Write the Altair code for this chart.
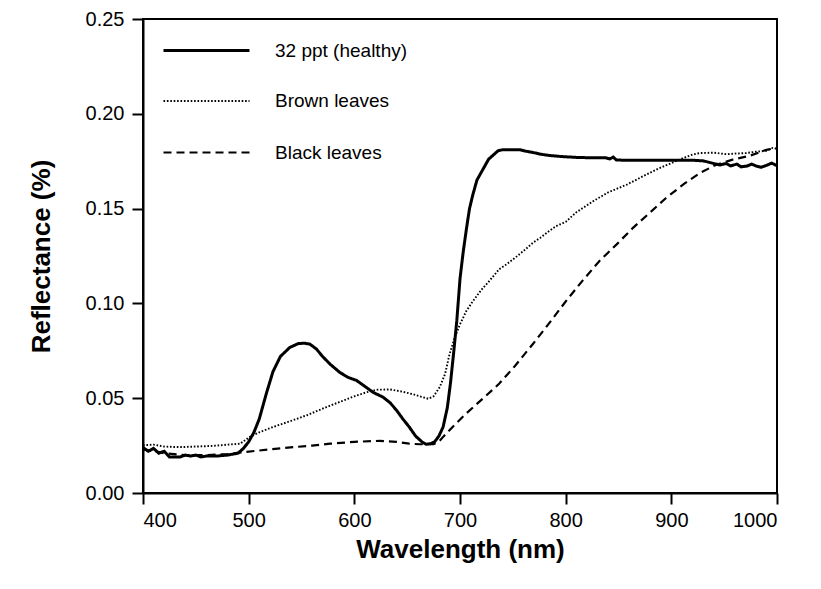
import altair as alt
import pandas as pd

# ---- data ----
series_names = ["32 ppt (healthy)", "Brown leaves", "Black leaves"]

healthy_wl = [400, 405, 410, 415, 420, 425, 435, 440, 445, 450, 455, 460, 470, 480, 490, 495,
              500, 505, 510, 517, 523, 530, 539, 547, 553, 558, 564, 570, 577, 586, 594, 602,
              611, 618, 627, 634, 640, 646, 652, 658, 664, 668, 672, 676, 680, 684, 688, 691,
              694, 697, 700, 703, 706, 709, 712, 716, 722, 727, 731, 736, 740, 750, 757, 762,
              770, 776, 785, 795, 810, 825, 838, 842, 845, 848, 860, 880, 900, 920, 930, 940,
              946, 952, 956, 962, 966, 972, 976, 980, 985, 990, 995, 1000]
healthy_val = [0.024, 0.022, 0.0235, 0.021, 0.022, 0.019, 0.019, 0.020, 0.0195, 0.020, 0.019, 0.0195,
               0.0195, 0.020, 0.021, 0.0235, 0.027, 0.032, 0.039, 0.053, 0.064, 0.072, 0.0768, 0.0788,
               0.079, 0.0785, 0.076, 0.072, 0.068, 0.0637, 0.061, 0.0594, 0.0558, 0.053, 0.0506, 0.0475,
               0.0436, 0.039, 0.0348, 0.030, 0.027, 0.0257, 0.026, 0.027, 0.030, 0.0348, 0.045, 0.058,
               0.074, 0.091, 0.113, 0.127, 0.139, 0.150, 0.157, 0.165, 0.171, 0.176, 0.178, 0.1805,
               0.181, 0.181, 0.181, 0.1803, 0.1795, 0.1787, 0.178, 0.1775, 0.177, 0.1768, 0.1768, 0.1762,
               0.1772, 0.1756, 0.1755, 0.1755, 0.1755, 0.1755, 0.1752, 0.1738, 0.173, 0.1738, 0.1725, 0.1735,
               0.172, 0.1725, 0.1735, 0.1725, 0.1718, 0.1728, 0.174, 0.1726]

brown_wl = [400, 410, 420, 428, 440, 450, 460, 470, 480, 492, 501, 510, 523, 540, 555, 570, 586,
            600, 612, 622, 634, 645, 656, 665, 670, 675, 681, 686, 690, 695, 700, 706, 712, 720,
            728, 737, 744, 752, 760, 769, 776, 784, 791, 800, 810, 826, 840, 858, 873, 889, 900,
            911, 920, 927, 940, 952, 960, 971, 980, 990, 996, 1000]
brown_val = [0.0252, 0.0255, 0.0245, 0.0243, 0.0243, 0.0245, 0.0247, 0.025, 0.0255, 0.026, 0.0296,
             0.032, 0.0348, 0.038, 0.041, 0.0445, 0.048, 0.051, 0.0532, 0.0545, 0.0546, 0.0535, 0.052,
             0.0505, 0.0497, 0.051, 0.056, 0.063, 0.073, 0.082, 0.089, 0.096, 0.101, 0.107, 0.112,
             0.118, 0.1206, 0.124, 0.1276, 0.132, 0.1346, 0.138, 0.1408, 0.143, 0.148, 0.1539, 0.1585,
             0.1627, 0.167, 0.1714, 0.174, 0.1766, 0.1785, 0.1793, 0.1795, 0.1787, 0.179, 0.1793,
             0.18, 0.1805, 0.182, 0.1815]

black_wl = [400, 420, 440, 460, 480, 498, 520, 545, 560, 577, 600, 624, 640, 652, 662, 675, 680,
            684, 695, 706, 720, 737, 752, 769, 785, 800, 816, 832, 848, 864, 880, 895, 912, 927,
            942, 958, 975, 990, 1000]
black_val = [0.023, 0.021, 0.020, 0.020, 0.0205, 0.0217, 0.023, 0.0243, 0.025, 0.026, 0.027, 0.0275,
             0.027, 0.026, 0.0257, 0.0257, 0.027, 0.0296, 0.036, 0.042, 0.049, 0.0576, 0.067, 0.0786,
             0.090, 0.101, 0.112, 0.1224, 0.131, 0.140, 0.148, 0.1556, 0.163, 0.1688, 0.173, 0.1758,
             0.178, 0.181, 0.182]

x_ticks = [400, 500, 600, 700, 800, 900, 1000]
y_ticks = [0.00, 0.05, 0.10, 0.15, 0.20, 0.25]

rows = []
for name, wl, val in [(series_names[0], healthy_wl, healthy_val),
                      (series_names[1], brown_wl, brown_val),
                      (series_names[2], black_wl, black_val)]:
    for w, v in zip(wl, val):
        rows.append({"Wavelength": w, "Reflectance": v, "Series": name})
df = pd.DataFrame(rows)

FONT = "Liberation Sans"

legend = alt.Legend(
    title=None, orient="none", legendX=40.5, legendY=8.5,
    symbolType="M-2,0H2", symbolSize=1849, symbolStrokeColor="black",
    symbolFillColor="transparent",
    labelFont=FONT, labelFontSize=19, labelColor="black", labelOffset=45.5,
    rowPadding=18, padding=0,
)

chart = alt.Chart(df).mark_line(color="black").encode(
    x=alt.X("Wavelength:Q",
            scale=alt.Scale(domain=[400, 1000], nice=False, zero=False),
            axis=alt.Axis(values=x_ticks, title="Wavelength (nm)", format="d")),
    y=alt.Y("Reflectance:Q",
            scale=alt.Scale(domain=[0, 0.25], nice=False),
            axis=alt.Axis(values=y_ticks, title="Reflectance (%)", format=".2f")),
    strokeDash=alt.StrokeDash("Series:N",
                              scale=alt.Scale(domain=series_names,
                                              range=[[1, 0], [1.6, 1.8], [8, 5]]),
                              legend=legend),
    strokeWidth=alt.StrokeWidth("Series:N",
                                scale=alt.Scale(type="ordinal", domain=series_names,
                                                range=[3, 1.9, 2.2]),
                                legend=legend),
    order=alt.Order("Wavelength:Q"),
).properties(
    width=634, height=474,
    autosize=alt.AutoSizeParams(type="none"),
    padding={"left": 135, "top": 11, "right": 30, "bottom": 80},
).configure_view(
    stroke="black", strokeWidth=2
).configure_axis(
    grid=False,
    domainColor="black", domainWidth=2,
    tickColor="black", tickWidth=2, tickSize=11,
    labelFont=FONT, labelFontSize=20, labelColor="black", labelPadding=6,
    titleFont=FONT, titleFontSize=26, titleFontWeight="bold", titleColor="black",
).configure_axisY(
    titlePadding=31, labelPadding=8,
).configure_axisX(
    titlePadding=6,
)

chart.save("out.html", embed_options={"renderer": "svg", "actions": False})
